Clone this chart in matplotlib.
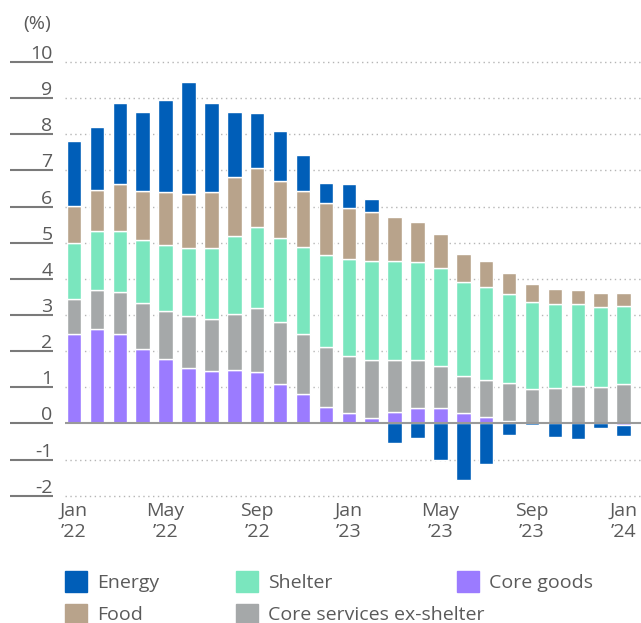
import numpy as np
import matplotlib
matplotlib.use("Agg")
import matplotlib.pyplot as plt
from matplotlib.patches import Rectangle

# contributions to CPI, percentage points
months = ["Jan\n\u201922", "Feb", "Mar", "Apr", "May\n\u201922", "Jun", "Jul", "Aug", "Sep\n\u201922",
          "Oct", "Nov", "Dec", "Jan\n\u201923", "Feb", "Mar", "Apr", "May\n\u201923", "Jun", "Jul",
          "Aug", "Sep\n\u201923", "Oct", "Nov", "Dec", "Jan\n\u201924"]
core_goods = [2.46, 2.60, 2.48, 2.06, 1.79, 1.52, 1.45, 1.49, 1.43, 1.10, 0.80, 0.45, 0.29,
              0.16, 0.31, 0.43, 0.43, 0.29, 0.19, 0.06, 0.00, 0.00, 0.00, 0.00, -0.05]
core_services = [0.99, 1.08, 1.16, 1.27, 1.31, 1.44, 1.45, 1.55, 1.76, 1.71, 1.68, 1.66, 1.57,
                 1.60, 1.45, 1.33, 1.16, 1.01, 1.02, 1.07, 0.94, 0.98, 1.04, 1.01, 1.10]
shelter = [1.54, 1.64, 1.68, 1.74, 1.83, 1.88, 1.94, 2.14, 2.25, 2.33, 2.39, 2.54, 2.69,
           2.74, 2.74, 2.71, 2.71, 2.60, 2.57, 2.46, 2.42, 2.32, 2.26, 2.21, 2.16]
food = [1.02, 1.13, 1.30, 1.36, 1.46, 1.50, 1.55, 1.63, 1.62, 1.58, 1.56, 1.46, 1.41,
        1.34, 1.20, 1.09, 0.95, 0.78, 0.70, 0.58, 0.51, 0.43, 0.40, 0.39, 0.35]
energy = [1.81, 1.76, 2.25, 2.18, 2.56, 3.11, 2.48, 1.80, 1.52, 1.37, 1.01, 0.55, 0.67,
          0.36, -0.55, -0.40, -1.00, -1.56, -1.12, -0.31, -0.05, -0.38, -0.43, -0.13, -0.31]

yticks = [-2, -1, 0, 1, 2, 3, 4, 5, 6, 7, 8, 9, 10]

series = [
    ("Core goods", core_goods, "#9B7BFF"),
    ("Core services ex-shelter", core_services, "#A5A8A9"),
    ("Shelter", shelter, "#7AE6BE"),
    ("Food", food, "#B8A38B"),
    ("Energy", energy, "#005EB8"),
]
colors = {name: c for name, _, c in series}

plt.rcParams['font.family'] = ['Open Sans', 'DejaVu Sans']
text_color = "#5a5a5a"
fs = 14

fig = plt.figure(figsize=(6.41, 6.23), dpi=100)
ax = fig.add_axes([0.1014, 0.1986, 0.8986, 0.7077])

x = np.arange(len(months))
pos_bottom = np.zeros(len(months))
neg_bottom = np.zeros(len(months))
for name, vals, col in series:
    vals = np.array(vals)
    bottom = np.where(vals >= 0, pos_bottom, neg_bottom)
    ax.bar(x, vals, bottom=bottom, width=0.63, color=col, edgecolor="white",
           linewidth=1.0, zorder=3)
    pos_bottom = pos_bottom + np.clip(vals, 0, None)
    neg_bottom = neg_bottom + np.clip(vals, None, 0)

ax.set_xlim(-0.393, 24.76)
ax.set_ylim(-2.1, 10.1)

# dotted grid + solid zero line
for v in yticks:
    if v == 0:
        ax.axhline(0, xmin=0.002, color="#9a9a9a", lw=1.5, zorder=4)
    else:
        ax.axhline(v, color="#b5b5b5", lw=1.0, ls=(0, (1, 2.5)), zorder=1)

# y labels sitting on short rules left of the plot
trans = ax.get_yaxis_transform()
for v in yticks:
    ax.plot([-0.0955, -0.0215], [v, v], transform=trans, color="#7a7a7a", lw=1.5,
            clip_on=False, solid_capstyle="butt")
    ax.annotate(str(v), xy=(-0.0215, v), xycoords=trans, xytext=(0, 3),
                textcoords="offset pixels", ha="right", va="baseline",
                fontsize=fs, color=text_color)
ax.set_yticks([])

fig.text(51 / 641, 1 - 24.5 / 623, "(%)", ha="right", va="center", fontsize=fs, color=text_color)

tick_pos = [i for i, m in enumerate(months) if "\n" in m]
ax.set_xticks(tick_pos)
ax.set_xticklabels([months[i] for i in tick_pos], fontsize=fs, color=text_color,
                   linespacing=1.2)
ax.tick_params(axis="x", length=0, pad=2)

for s in ax.spines.values():
    s.set_visible(False)

# legend drawn by hand, 3 columns x 2 rows
legend_items = [
    ("Energy", 65, 581.5), ("Shelter", 236, 581.5), ("Core goods", 457, 581.5),
    ("Food", 65, 614.5), ("Core services ex-shelter", 236, 614.5),
]
W, H = 641, 623
for name, px, py in legend_items:
    fig.patches.append(Rectangle((px / W, 1 - (py + 10.5) / H), 22 / W, 21 / H,
                                 transform=fig.transFigure, color=colors[name]))
    fig.text((px + 32) / W, 1 - (py + 1) / H, name, ha="left", va="center", fontsize=fs,
             color=text_color)

fig.savefig("out.png", dpi=100)
